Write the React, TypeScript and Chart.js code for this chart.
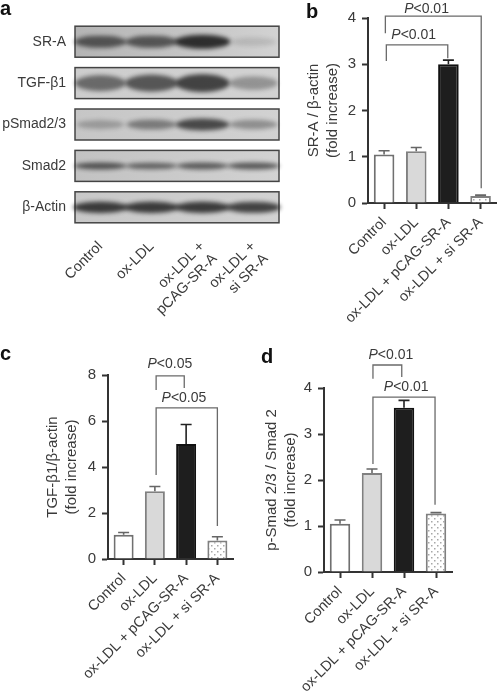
import React, { useEffect, useRef } from "react";
import { Chart, registerables } from "chart.js";

Chart.register(...registerables);

const FONT = "'Liberation Sans', Arial, sans-serif";
const TEXT = "#3a3a3a";

const groups = ["Control", "ox-LDL", "ox-LDL + pCAG-SR-A", "ox-LDL + si SR-A"];

const bValues = [1.05, 1.12, 3.0, 0.15];
const bErrors = [1.13, 1.2, 3.09, 0.17];
const cValues = [1.05, 2.95, 5.0, 0.8];
const cErrors = [1.15, 3.15, 5.85, 0.97];
const dValues = [1.05, 2.15, 3.57, 1.27];
const dErrors = [1.13, 2.24, 3.73, 1.29];

const blotLanes = [["Control"], ["ox-LDL"], ["ox-LDL +", "pCAG-SR-A"], ["ox-LDL +", "si SR-A"]];
const blotProteins = ["SR-A", "TGF-β1", "pSmad2/3", "Smad2", "β-Actin"];
const srABands = [0.72, 0.72, 0.98, 0.14];
const tgfBands = [0.62, 0.74, 0.86, 0.38];
const pSmadBands = [0.3, 0.5, 0.82, 0.4];
const smad2Bands = [0.75, 0.65, 0.7, 0.72];
const actinBands = [0.9, 0.9, 0.9, 0.86];

type Bracket = {
  from: number; to: number; top: number; leftEnd: number; rightEnd: number;
  label: string; labelX: number; labelY: number;
};

const bBrackets: Bracket[] = [
  { from: 0.04, to: 3.02, top: 4.04, leftEnd: 3.67, rightEnd: 0.32, label: "<0.01", labelX: 1.32, labelY: 4.2 },
  { from: 0.07, to: 1.98, top: 3.42, leftEnd: 3.07, rightEnd: 3.13, label: "<0.01", labelX: 0.92, labelY: 3.63 },
];
const cBrackets: Bracket[] = [
  { from: 1.04, to: 1.94, top: 7.96, leftEnd: 7.35, rightEnd: 7.43, label: "<0.05", labelX: 1.48, labelY: 8.48 },
  { from: 1.04, to: 3.0, top: 6.57, leftEnd: 3.65, rightEnd: 1.43, label: "<0.05", labelX: 1.93, labelY: 7.0 },
];
const dBrackets: Bracket[] = [
  { from: 1.03, to: 1.93, top: 4.5, leftEnd: 4.2, rightEnd: 4.24, label: "<0.01", labelX: 1.59, labelY: 4.72 },
  { from: 1.03, to: 2.97, top: 3.8, leftEnd: 2.35, rightEnd: 1.46, label: "<0.01", labelX: 2.07, labelY: 4.02 },
];

function dotPattern(ctx: CanvasRenderingContext2D) {
  const c = document.createElement("canvas");
  c.width = 6;
  c.height = 6;
  const g = c.getContext("2d")!;
  g.fillStyle = "#ffffff";
  g.fillRect(0, 0, 6, 6);
  g.fillStyle = "#a8a8a8";
  g.fillRect(1, 1, 1.5, 1.5);
  g.fillRect(4, 4, 1.5, 1.5);
  return ctx.createPattern(c, "repeat")!;
}

type PanelProps = {
  left: number; top: number; width: number; height: number;
  plotLeft: number; plotRight: number; plotTop: number; plotBottom: number;
  titleShift: number;
  values: number[]; errors: number[]; brackets: Bracket[];
  yMax: number; yStep: number; yTitle: string[];
};

function BarPanel(p: PanelProps) {
  const ref = useRef<HTMLCanvasElement>(null);
  useEffect(() => {
    const canvas = ref.current!;
    const ctx = canvas.getContext("2d")!;
    const annotate = {
      id: "annotate",
      afterDatasetsDraw(chart: any) {
        const g = chart.ctx;
        const x = chart.scales.x;
        const y = chart.scales.y;
        g.save();
        const errColors = ["#666666", "#666666", "#222222", "#666666"];
        p.errors.forEach((e, i) => {
          const px = x.getPixelForValue(i);
          g.strokeStyle = errColors[i];
          g.lineWidth = 1.6;
          g.beginPath();
          g.moveTo(px, y.getPixelForValue(p.values[i]));
          g.lineTo(px, y.getPixelForValue(e));
          g.moveTo(px - 5.5, y.getPixelForValue(e));
          g.lineTo(px + 5.5, y.getPixelForValue(e));
          g.stroke();
        });
        p.brackets.forEach((b) => {
          const x0 = x.getPixelForValue(b.from);
          const x1 = x.getPixelForValue(b.to);
          g.strokeStyle = "#6a6a6a";
          g.lineWidth = 1.3;
          g.beginPath();
          g.moveTo(x0, y.getPixelForValue(b.leftEnd));
          g.lineTo(x0, y.getPixelForValue(b.top));
          g.lineTo(x1, y.getPixelForValue(b.top));
          g.lineTo(x1, y.getPixelForValue(b.rightEnd));
          g.stroke();
          g.fillStyle = TEXT;
          g.textBaseline = "middle";
          g.textAlign = "left";
          g.font = `italic 14px ${FONT}`;
          const pw = g.measureText("P").width;
          g.font = `14px ${FONT}`;
          const rw = g.measureText(b.label).width;
          const sx = x.getPixelForValue(b.labelX) - (pw + rw) / 2;
          const sy = y.getPixelForValue(b.labelY);
          g.font = `italic 14px ${FONT}`;
          g.fillText("P", sx, sy);
          g.font = `14px ${FONT}`;
          g.fillText(b.label, sx + pw, sy);
        });
        g.restore();
      },
    };
    const chart = new Chart(canvas, {
      type: "bar",
      data: {
        labels: groups,
        datasets: [
          {
            data: p.values,
            backgroundColor: ["#ffffff", "#d9d9d9", "#1e1e1e", dotPattern(ctx)],
            borderColor: ["#707070", "#808080", "#111111", "#808080"],
            borderWidth: 2,
            barPercentage: 0.64,
            categoryPercentage: 1,
          },
        ],
      },
      options: {
        responsive: false,
        animation: false,
        devicePixelRatio: 1,
        layout: { padding: { left: p.titleShift, top: p.plotTop, right: p.width - p.plotRight, bottom: 0 } },
        plugins: { legend: { display: false }, tooltip: { enabled: false }, title: { display: false } },
        scales: {
          x: {
            afterFit: (s: any) => { s.height = p.height - p.plotBottom; },
            grid: { drawOnChartArea: false, offset: false, tickLength: 6, tickWidth: 2, tickColor: "#333333" },
            border: { color: "#333333", width: 2 },
            ticks: {
              autoSkip: false, minRotation: 45, maxRotation: 45, padding: 5,
              color: TEXT, font: { family: FONT, size: 14.5 },
            },
          },
          y: {
            min: 0, max: p.yMax,
            afterFit: (s: any) => { s.width = p.plotLeft - p.titleShift; },
            grid: { drawOnChartArea: false, tickLength: 6, tickWidth: 2, tickColor: "#333333" },
            border: { color: "#333333", width: 2 },
            ticks: { stepSize: p.yStep, padding: 6, color: TEXT, font: { family: FONT, size: 15 } },
            title: {
              display: true, text: p.yTitle, color: TEXT, padding: 0,
              font: { family: FONT, size: 15, lineHeight: 1.22 },
            },
          },
        },
      },
      plugins: [annotate],
    } as any);
    return () => chart.destroy();
  }, []);
  return (
    <canvas
      ref={ref}
      width={p.width}
      height={p.height}
      style={{ position: "absolute", left: p.left, top: p.top, width: p.width, height: p.height, filter: "blur(0.4px)" }}
    />
  );
}

const rowThickness = [14, 19, 13, 8, 12];
const rowTone = ["#b4b4b4", "#cdcdcd", "#c6c6c6", "#c2c2c2", "#c8c8c8"];

function bandSprite(intensity: number, thickness: number) {
  const w = 64;
  const h = 36;
  const c = document.createElement("canvas");
  c.width = w;
  c.height = h;
  const g = c.getContext("2d")!;
  g.filter = "blur(2px)";
  g.fillStyle = `rgba(25,25,25,${intensity * 0.9})`;
  const bh = thickness * (0.55 + 0.45 * intensity);
  const bw = 40 + 12 * intensity;
  g.beginPath();
  g.ellipse(w / 2, h / 2, bw / 2 + 2, bh / 2, 0, 0, Math.PI * 2);
  g.fill();
  return c;
}

function BlotPanel() {
  const ref = useRef<HTMLCanvasElement>(null);
  useEffect(() => {
    const rows = [srABands, tgfBands, pSmadBands, smad2Bands, actinBands];
    const points: { x: string; y: string }[] = [];
    const sprites: HTMLCanvasElement[] = [];
    rows.forEach((row, r) =>
      row.forEach((v, l) => {
        points.push({ x: groups[l], y: blotProteins[r] });
        sprites.push(bandSprite(v, rowThickness[r]));
      })
    );
    const plates = {
      id: "plates",
      beforeDatasetsDraw(chart: any) {
        const g = chart.ctx;
        const y = chart.scales.y;
        const a = chart.chartArea;
        g.save();
        blotProteins.forEach((_, i) => {
          const cy = y.getPixelForValue(i);
          const ph = 31;
          const grad = g.createLinearGradient(a.left, 0, a.right, 0);
          grad.addColorStop(0, rowTone[i]);
          grad.addColorStop(1, "#d2d2d2");
          g.fillStyle = grad;
          g.fillRect(a.left, cy - ph / 2, a.right - a.left, ph);
          g.strokeStyle = "#444444";
          g.lineWidth = 1.5;
          g.strokeRect(a.left, cy - ph / 2, a.right - a.left, ph);
        });
        g.restore();
      },
    };
    const chart = new Chart(ref.current!, {
      type: "line",
      data: {
        labels: groups,
        datasets: [
          {
            data: points,
            showLine: false,
            pointStyle: sprites,
            pointRadius: 20,
          },
        ],
      },
      options: {
        responsive: false,
        animation: false,
        devicePixelRatio: 1,
        layout: { padding: { left: 0, top: 20, right: 20, bottom: 0 } },
        plugins: { legend: { display: false }, tooltip: { enabled: false }, title: { display: false } },
        scales: {
          x: {
            type: "category",
            offset: true,
            afterFit: (s: any) => { s.height = 102; },
            grid: { display: false },
            border: { display: false },
            ticks: {
              autoSkip: false, minRotation: 45, maxRotation: 45, padding: 2,
              color: TEXT, font: { family: FONT, size: 14.5 },
              callback: (_: any, i: number) => blotLanes[i],
            },
          },
          y: {
            type: "category",
            labels: blotProteins,
            offset: true,
            afterFit: (s: any) => { s.width = 75; },
            grid: { display: false },
            border: { display: false },
            ticks: { autoSkip: false, padding: 1, color: TEXT, font: { family: FONT, size: 14 } },
          },
        },
      },
      plugins: [plates],
    } as any);
    return () => chart.destroy();
  }, []);
  return (
    <canvas
      ref={ref}
      width={300}
      height={330}
      style={{ position: "absolute", left: 0, top: 0, width: 300, height: 330, filter: "blur(0.4px)" }}
    />
  );
}

function Letter({ t, x, y }: { t: string; x: number; y: number }) {
  return (
    <div style={{ position: "absolute", left: x, top: y, font: `bold 20px ${FONT}`, lineHeight: "20px", color: "#111" }}>
      {t}
    </div>
  );
}

export default function App() {
  useEffect(() => {
    document.body.style.margin = "0";
    document.body.style.background = "#fff";
  }, []);
  return (
    <div style={{ position: "relative", width: 498, height: 694, overflow: "hidden" }}>
      <BlotPanel />
      <BarPanel
        left={298} top={0} width={200} height={330}
        plotLeft={70} plotRight={199} plotTop={18} plotBottom={203}
        titleShift={7}
        values={bValues} errors={bErrors} brackets={bBrackets}
        yMax={4} yStep={1} yTitle={["SR-A / β-actin", "(fold increase)"]}
      />
      <BarPanel
        left={0} top={340} width={250} height={354}
        plotLeft={108} plotRight={233} plotTop={35} plotBottom={219}
        titleShift={44}
        values={cValues} errors={cErrors} brackets={cBrackets}
        yMax={8} yStep={2} yTitle={["TGF-β1/β-actin", "(fold increase)"]}
      />
      <BarPanel
        left={250} top={340} width={248} height={354}
        plotLeft={74} plotRight={202} plotTop={48} plotBottom={232}
        titleShift={13}
        values={dValues} errors={dErrors} brackets={dBrackets}
        yMax={4} yStep={1} yTitle={["p-Smad 2/3 / Smad 2", "(fold increase)"]}
      />
      <Letter t="a" x={0} y={-2} />
      <Letter t="b" x={306} y={1} />
      <Letter t="c" x={0} y={343} />
      <Letter t="d" x={261} y={346} />
    </div>
  );
}
